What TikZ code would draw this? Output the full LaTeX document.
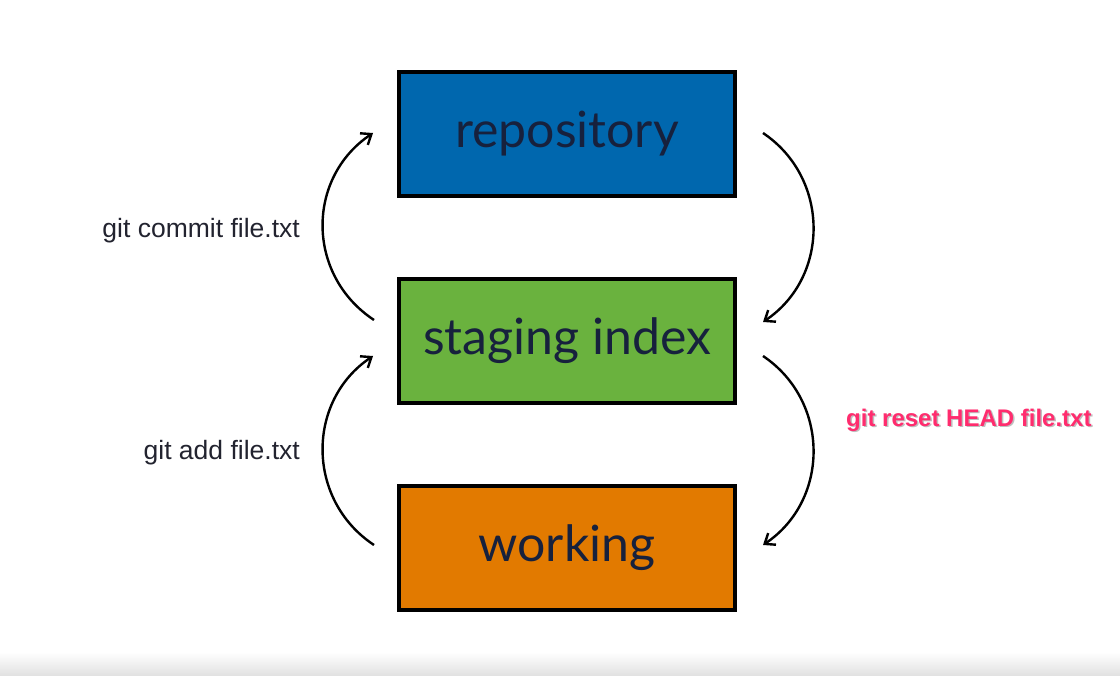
\documentclass[tikz,border=0pt]{standalone}
\usepackage{fontspec}
\setmainfont{Liberation Sans}
\newfontfamily\boxfont{Lato}
\usetikzlibrary{arrows.meta}
\definecolor{repoblue}{HTML}{0067AE}
\definecolor{stagegreen}{HTML}{6AB23E}
\definecolor{workorange}{HTML}{E27A00}
\definecolor{navytext}{HTML}{17213D}
\definecolor{labeltext}{HTML}{22232F}
\definecolor{resetred}{HTML}{FF2C6E}
\tikzset{
  stage/.style={draw=black, line width=4pt, minimum width=336pt, minimum height=124pt, inner sep=0pt,
    font=\boxfont\fontsize{50}{56}\selectfont, text=navytext},
  flow/.style={line width=2.4pt, black, -{Straight Barb[length=9pt,width=14pt,line width=2.4pt]}},
  cmd/.style={font=\fontsize{26.5}{30}\selectfont, text=labeltext, anchor=east, inner sep=0pt},
}
\begin{document}
\begin{tikzpicture}[x=1pt,y=-1pt]
\useasboundingbox (0,0) rectangle (1120,676);
\fill[white] (0,0) rectangle (1120,676);
\shade[top color=white, bottom color=black!12] (0,652) rectangle (1120,676);
\node[stage, fill=repoblue] (repo) at (567,134) {repository};
\node[stage, fill=stagegreen] (stage) at (567,341) {staging index};
\node[stage, fill=workorange] (work) at (567,548) {working};
\coordinate (a1s) at (374,320); \coordinate (a1e) at (373,133);
\coordinate (a2s) at (374,545); \coordinate (a2e) at (373,356);
\coordinate (b1s) at (763,133); \coordinate (b1e) at (763,322);
\coordinate (b2s) at (763,356); \coordinate (b2e) at (763,545);
\draw[flow] (a1s) .. controls (306,275) and (306,178) .. (a1e);
\draw[flow] (a2s) .. controls (306,500) and (306,401) .. (a2e);
\draw[flow] (b1s) .. controls (830,178) and (830,277) .. (b1e);
\draw[flow] (b2s) .. controls (830,401) and (830,500) .. (b2e);
\node[cmd] (commit) at (300,231) {git commit file.txt};
\node[cmd] (add) at (300,453) {git add file.txt};
\node[font=\bfseries\fontsize{24}{27}\selectfont, text=black!25, anchor=west, inner sep=0pt] at (847.5,421.5) {git reset HEAD file.txt};
\node[font=\bfseries\fontsize{24}{27}\selectfont, text=resetred, anchor=west, inner sep=0pt] (reset) at (846,420) {git reset HEAD file.txt};
\end{tikzpicture}
\end{document}
